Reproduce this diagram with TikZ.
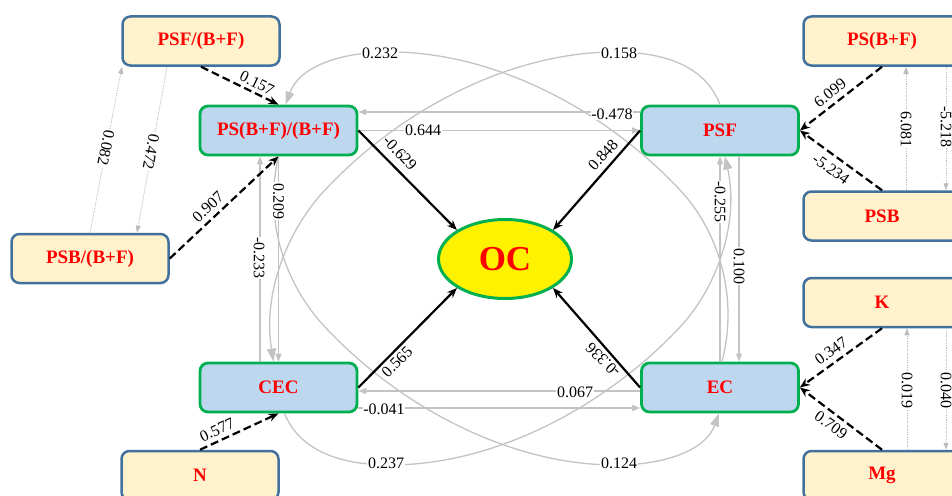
\documentclass[tikz,border=0pt]{standalone}
\usepackage{fontspec}
\setmainfont{Liberation Serif}
\usetikzlibrary{arrows.meta,shapes.geometric}
\definecolor{cream}{HTML}{FFF2CC}
\definecolor{creamline}{HTML}{41719C}
\definecolor{lblue}{HTML}{BDD7EE}
\definecolor{grn}{HTML}{00B050}
\definecolor{lgray}{HTML}{C3C3C3}
\definecolor{dgray}{HTML}{BBBBBB}
\begin{document}
\begin{tikzpicture}[x=1pt,y=-1pt,
  extbox/.style={draw=creamline, fill=cream, line width=2.5pt, rounded corners=8pt,
    minimum width=157pt, minimum height=49pt, inner sep=0pt,
    font=\fontsize{19}{22}\selectfont\bfseries, text=red},
  inbox/.style={draw=grn, fill=lblue, line width=2.8pt, rounded corners=8pt,
    minimum width=157pt, minimum height=49pt, inner sep=0pt,
    font=\fontsize{19}{22}\selectfont\bfseries, text=red},
  ocnode/.style={ellipse, draw=grn, fill=yellow, line width=3pt,
    minimum width=133pt, minimum height=79pt, inner sep=0pt,
    font=\fontsize{35}{40}\selectfont\bfseries, text=red},
  lbl/.style={font=\fontsize{16}{18}\selectfont, inner sep=0.8pt},
  lblw/.style={lbl, fill=white},
  blk/.style={draw=black, line width=2.2pt, -{Stealth[length=10pt,width=8pt]}},
  dsh/.style={blk, dash pattern=on 8pt off 4pt},
  gl/.style={draw=lgray, line width=1.2pt, -{Triangle[length=8pt,width=6pt]}},
  gc/.style={draw=lgray, line width=1.3pt, -{Triangle[length=13pt,width=9pt]}},
  dotl/.style={draw=dgray, line width=0.8pt, dash pattern=on 1.2pt off 1.2pt, -{Triangle[length=7pt,width=5pt]}}
]
\useasboundingbox (0,0) rectangle (952,495);
\clip (0,0) rectangle (952,495);

% nodes
\node[extbox] (psfbf) at (201,41) {PSF/(B+F)};
\node[extbox] (psbbf) at (90,258.5) {PSB/(B+F)};
\node[extbox] (n) at (200,475.5) {N};
\node[extbox] (psbfx) at (882,41) {PS(B+F)};
\node[extbox] (psb) at (882,216) {PSB};
\node[extbox] (k) at (882,302.5) {K};
\node[extbox] (mg) at (882,475.5) {Mg};
\node[inbox] (psbf) at (278.5,130.5) {PS(B+F)/(B+F)};
\node[inbox] (psf) at (720,130.5) {PSF};
\node[inbox] (cec) at (278.5,387.5) {CEC};
\node[inbox] (ec) at (720,387.5) {EC};
\node[ocnode] (oc) at (505,259) {OC};

% curved gray connectors
\draw[gc] ([xshift=2pt]ec.north) .. controls (740,292) and (715,227) .. (680,190)
  .. controls (605,110) and (495,52) .. (390,52)
  .. controls (337,52) and (299,68) .. ([xshift=7pt]psbf.north);
\draw[gc] (psf.north) .. controls (706,68) and (668,52) .. (615,52)
  .. controls (510,52) and (400,110) .. (325,190)
  .. controls (290,227) and (262,290) .. ([xshift=-5pt]cec.north);
\draw[gc] (psbf.south) .. controls (262,227) and (290,290) .. (325,327)
  .. controls (400,407) and (510,465) .. (615,465)
  .. controls (668,465) and (706,449) .. ([xshift=-1pt]ec.south);
\draw[gc] ([xshift=6pt]cec.south) .. controls (299,449) and (337,465) .. (390,465)
  .. controls (495,465) and (605,407) .. (680,327)
  .. controls (715,290) and (740,225) .. ([xshift=5pt]psf.south);

% straight gray connectors
\draw[gl] ([yshift=18.5pt]psf.west) -- ([yshift=18.5pt]psbf.east);
\draw[gl] (psbf.east) -- (psf.west);
\draw[gl] ([yshift=-3.5pt]ec.west) -- ([yshift=-3.5pt]cec.east);
\draw[gl] ([yshift=-20.5pt]cec.east) -- ([yshift=-20.5pt]ec.west);
\draw[gl] ([xshift=-18.5pt]cec.north) -- ([xshift=-18.5pt]psbf.south);
\draw[gl] (psbf.south) -- (cec.north);
\draw[gl] (ec.north) -- (psf.south);
\draw[gl] ([xshift=19pt]psf.south) -- ([xshift=19pt]ec.north);

% dotted gray connectors
\draw[dotl] ([xshift=24pt]psb.north) -- ([xshift=24pt]psbfx.south);
\draw[dotl] ([xshift=64pt]psbfx.south) -- ([xshift=64pt]psb.north);
\draw[dotl] ([xshift=25pt]mg.north) -- ([xshift=25pt]k.south);
\draw[dotl] ([xshift=64pt]k.south) -- ([xshift=64pt]mg.north);
\draw[dotl] (psbbf.north) -- ([xshift=-79pt]psfbf.south);
\draw[dotl] ([xshift=-34pt]psfbf.south) -- ([xshift=47pt]psbbf.north);

% dashed black connectors
\draw[dsh] (psfbf.south) -- (psbf.north);
\draw[dsh] (psbbf.east) -- (psbf.south);
\draw[dsh] (n.north) -- (cec.south);
\draw[dsh] (psbfx.south) -- (psf.east);
\draw[dsh] (psb.north) -- (psf.east);
\draw[dsh] (k.south) -- (ec.east);
\draw[dsh] (mg.north) -- (ec.east);

% solid black connectors
\draw[blk] (psbf.east) -- (oc.north west);
\draw[blk] (psf.west) -- (oc.north east);
\draw[blk] (cec.east) -- (oc.south west);
\draw[blk] (ec.west) -- (oc.south east);

% labels
\node[lblw] (l232) at (380,53) {0.232};
\node[lblw] (l158) at (619,53) {0.158};
\node[lblw] (l237) at (386,463) {0.237};
\node[lblw] (l124) at (619,463) {0.124};
\node[lblw] (l478) at (612,114) {-0.478};
\node[lblw] (l644) at (423,130) {0.644};
\node[lblw] (l067) at (575,392) {0.067};
\node[lblw] (l041) at (384,409) {-0.041};
\node[lblw,rotate=-90] (l209) at (278.5,201) {0.209};
\node[lblw,rotate=-90] (l233) at (259,258) {-0.233};
\node[lblw,rotate=-90] (l255) at (720,202) {-0.255};
\node[lblw,rotate=-90] (l100) at (739,266) {0.100};
\node[lblw,rotate=-90] (l6081) at (906,129) {6.081};
\node[lblw,rotate=-90] (l5218) at (946,127) {-5.218};
\node[lblw,rotate=-90] (l019) at (907,390) {0.019};
\node[lblw,rotate=-90] (l040) at (946,390) {0.040};
\node[lblw,rotate=-101] (l082) at (106,148) {0.082};
\node[lblw,rotate=-100] (l472) at (151,152) {0.472};
\node[lbl,rotate=-26] (l157) at (257,83) {0.157};
\node[lbl,rotate=43] (l907) at (208,207) {0.907};
\node[lbl,rotate=25] (l577) at (217,430) {0.577};
\node[lbl,rotate=38] (l6099) at (830,93) {6.099};
\node[lbl,rotate=-36] (l5234) at (831,169) {-5.234};
\node[lbl,rotate=36] (l347) at (831,351) {0.347};
\node[lbl,rotate=-36] (l709) at (831,425) {0.709};
\node[lbl,rotate=-47] (l629) at (400,153) {-0.629};
\node[lbl,rotate=48] (l848) at (603,155) {0.848};
\node[lbl,rotate=45] (l565) at (397,362) {0.565};
\node[lbl,rotate=135] (l336) at (603,360) {-0.336};
\end{tikzpicture}
\end{document}
